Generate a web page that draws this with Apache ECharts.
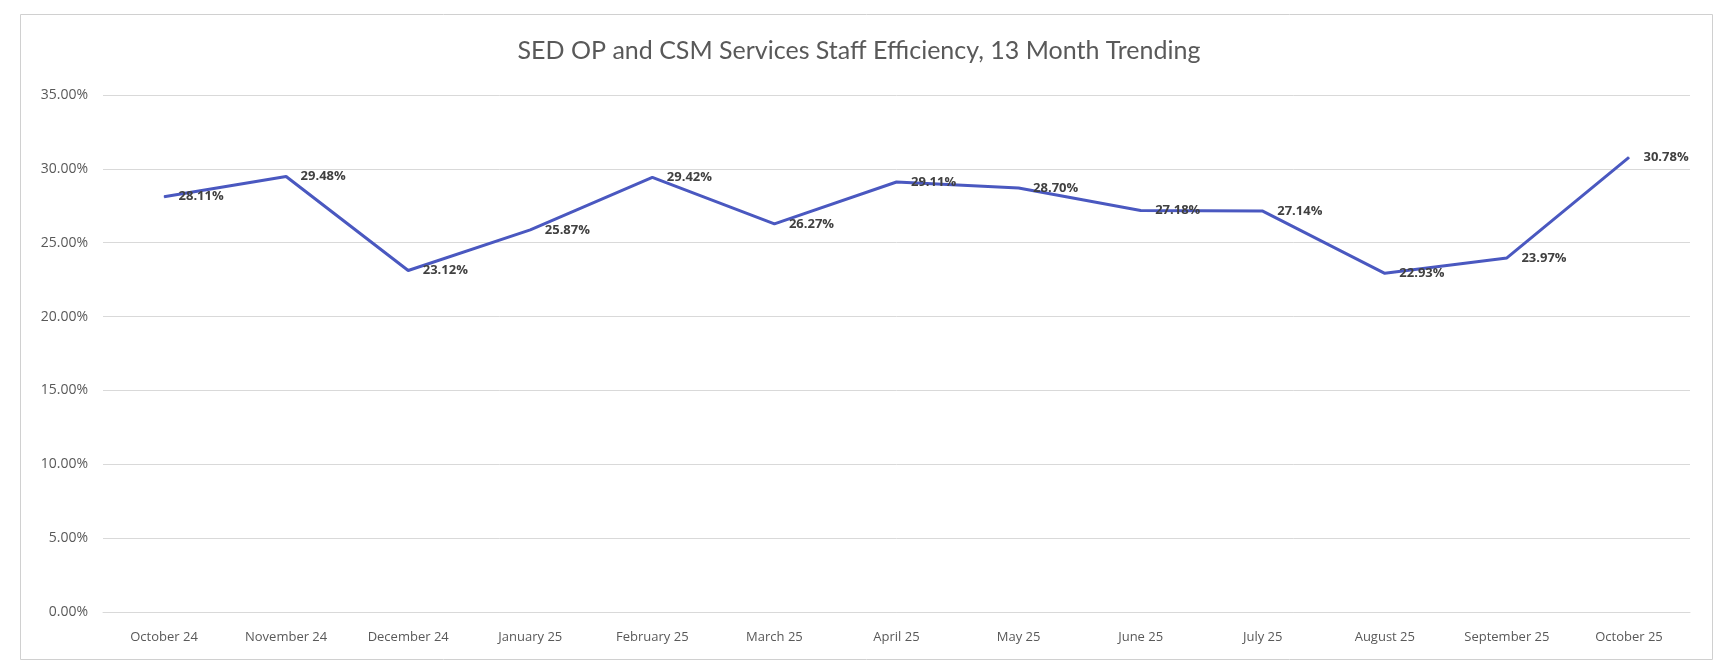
<!DOCTYPE html>
<html>
<head>
<meta charset="utf-8">
<script src="https://cdn.jsdelivr.net/npm/echarts@6/dist/echarts.min.js"></script>
<style>
html,body{margin:0;padding:0;background:#fff;}
#chart{width:1718px;height:662px;}
</style>
</head>
<body>
<div id="chart"></div>
<script>
const chartTitle = 'SED OP and CSM Services Staff Efficiency, 13 Month Trending';
const categories = ['October 24','November 24','December 24','January 25','February 25','March 25','April 25','May 25','June 25','July 25','August 25','September 25','October 25'];
const efficiency = [28.11, 29.48, 23.12, 25.87, 29.42, 26.27, 29.11, 28.70, 27.18, 27.14, 22.93, 23.97, 30.78];
const yMin = 0, yMax = 35, yStep = 5;

const chart = echarts.init(document.getElementById('chart'), null, {renderer:'canvas'});
chart.setOption({
  animation: false,
  backgroundColor: '#ffffff',
  title: {
    text: chartTitle,
    left: 'center',
    top: 33,
    textStyle: {fontFamily: 'Lato, "Open Sans", sans-serif', fontSize: 25, fontWeight: 'normal', color: '#595959'}
  },
  graphic: [{
    type: 'rect', left: 18, top: 12, silent: true,
    shape: {width: 1692, height: 645},
    style: {fill: 'none', stroke: '#d0d0d0', lineWidth: 1}
  }],
  grid: {left: 103, right: 28, top: 95, bottom: 50, containLabel: false},
  xAxis: {
    type: 'category',
    data: categories,
    boundaryGap: true,
    axisLine: {show: true, lineStyle: {color: '#d9d9d9', width: 1}},
    axisTick: {show: false},
    axisLabel: {color: '#595959', fontSize: 13, fontFamily: '"Open Sans", sans-serif', margin: 19, interval: 0}
  },
  yAxis: {
    type: 'value',
    min: yMin, max: yMax, interval: yStep,
    axisLine: {show: false},
    axisTick: {show: false},
    splitLine: {lineStyle: {color: '#d9d9d9', width: 1}},
    axisLabel: {color: '#595959', fontSize: 14, fontFamily: '"Open Sans", sans-serif', margin: 15,
      formatter: v => v.toFixed(2) + '%'}
  },
  series: [{
    type: 'line',
    data: efficiency,
    symbol: 'circle',
    symbolSize: 1,
    showSymbol: true,
    itemStyle: {color: '#4a58c0'},
    lineStyle: {color: '#4a58c0', width: 3},
    label: {
      show: true, position: 'right', distance: 14,
      formatter: p => p.value.toFixed(2) + '%',
      color: '#404040', fontSize: 13, fontWeight: 'bold', fontFamily: '"Open Sans", sans-serif'
    }
  }]
});
</script>
</body>
</html>
